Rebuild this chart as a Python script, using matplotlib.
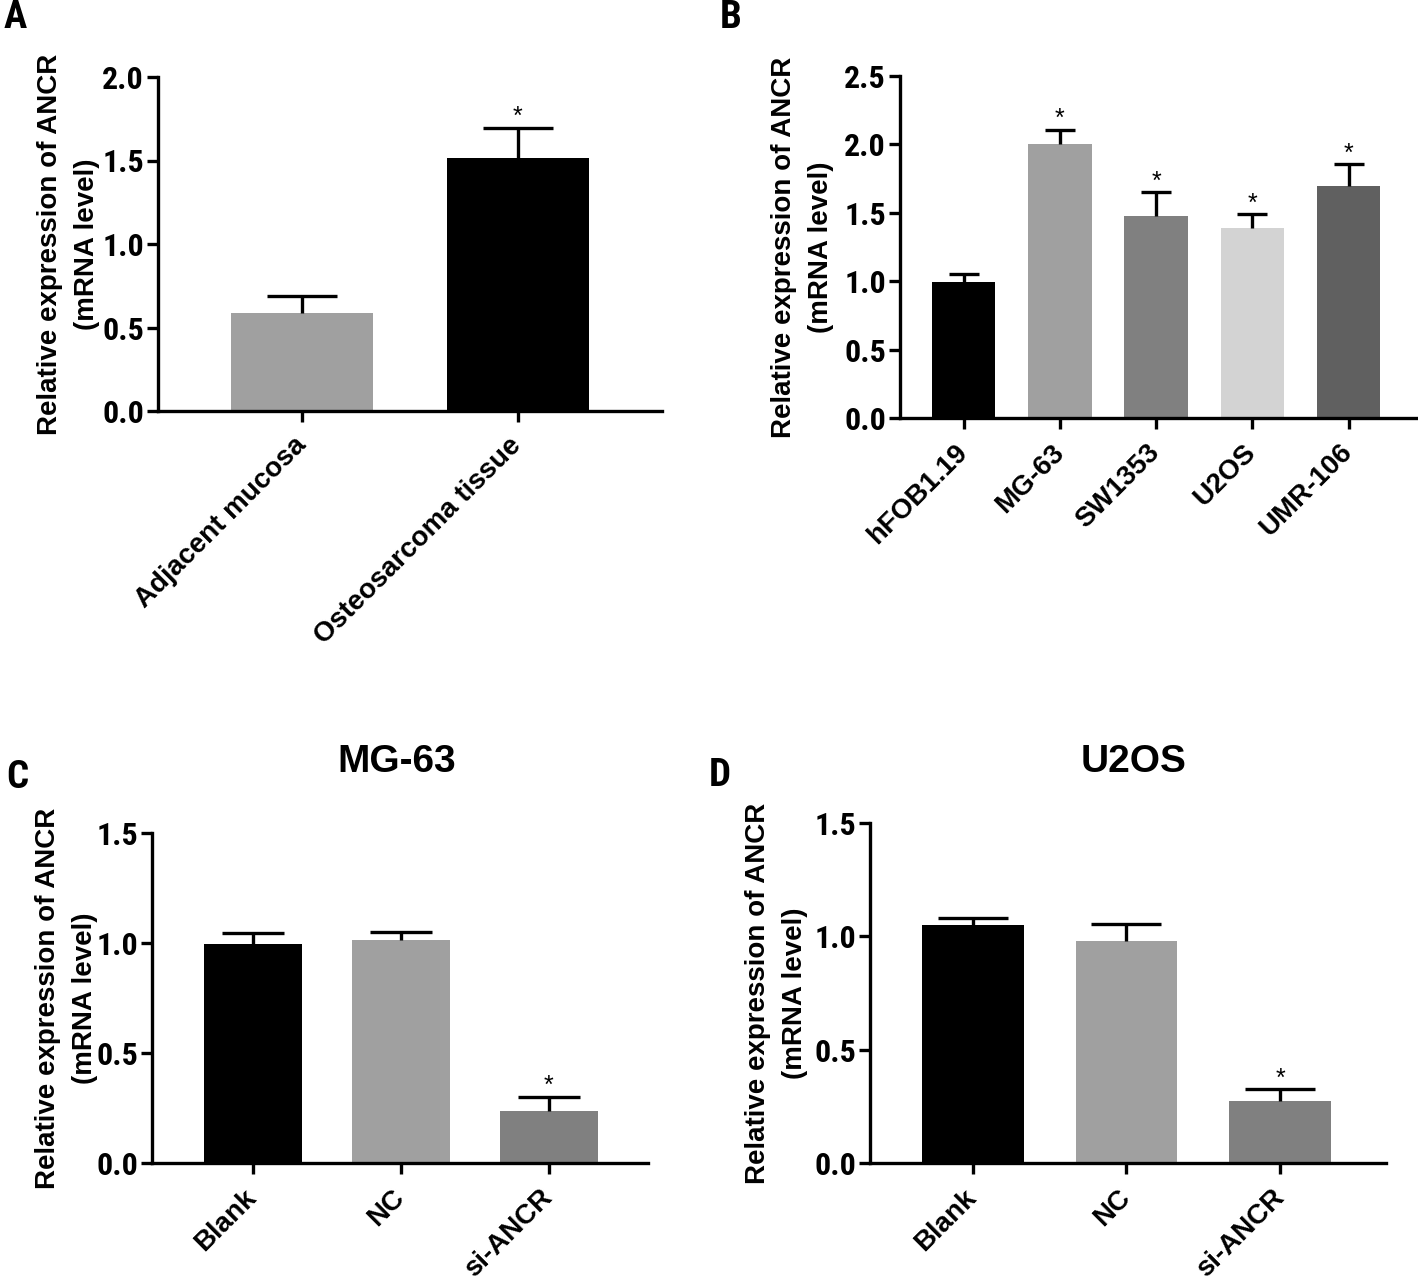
import matplotlib
matplotlib.use('Agg')
from matplotlib import pyplot as plt
from matplotlib import font_manager

# fonts: Arial-like bold for labels, a condensed bold for the numbers (as in GraphPad)
names = {f.name for f in font_manager.fontManager.ttflist}
narrow = 'Liberation Sans'
for cand in ['Liberation Sans Narrow', 'Arial Narrow', 'Roboto Condensed', 'Barlow Semi Condensed']:
    if cand in names:
        narrow = cand
        break
plt.rcParams['font.family'] = ['Liberation Sans', 'DejaVu Sans']

ylabel = 'Relative expression of ANCR\n(mRNA level)'

# panel A
a_groups = ['Adjacent mucosa', 'Osteosarcoma tissue']
a_means = [0.584, 1.517]
a_errs = [0.104, 0.178]
a_colors = ['#a0a0a0', '#000000']
a_stars = [False, True]

# panel B
b_groups = ['hFOB1.19', 'MG-63', 'SW1353', 'U2OS', 'UMR-106']
b_means = [0.996, 2.003, 1.48, 1.387, 1.699]
b_errs = [0.053, 0.103, 0.17, 0.103, 0.156]
b_colors = ['#000000', '#a0a0a0', '#808080', '#d3d3d3', '#606060']
b_stars = [False, True, True, True, True]

# panel C (MG-63)
c_groups = ['Blank', 'NC', 'si-ANCR']
c_means = [0.995, 1.015, 0.238]
c_errs = [0.052, 0.037, 0.063]
c_colors = ['#000000', '#a0a0a0', '#808080']
c_stars = [False, False, True]

# panel D (U2OS)
d_groups = ['Blank', 'NC', 'si-ANCR']
d_means = [1.052, 0.98, 0.273]
d_errs = [0.031, 0.075, 0.052]
d_colors = ['#000000', '#a0a0a0', '#808080']
d_stars = [False, False, True]

fig = plt.figure(figsize=(14.18, 12.80), dpi=100)
W, H = 1418, 1280


def rect(l, r, t, b):
    return [l / W, 1 - b / H, (r - l) / W, (b - t) / H]


def bar_panel(box, groups, means, errs, colors, stars, ymax, xlim, capsize, label_x):
    ax = fig.add_axes(box)
    x = list(range(len(groups)))
    ax.bar(x, means, width=0.66, color=colors, zorder=2)
    eb = ax.errorbar(x, means, yerr=[[0] * len(errs), errs], fmt='none', ecolor='black',
                     elinewidth=2.4, capsize=capsize, capthick=2.4, zorder=3)
    # only the upper cap, like GraphPad "mean + SD"
    eb[1][0].set_visible(False)
    for xi, m, e, s in zip(x, means, errs, stars):
        if s:
            ax.annotate('*', (xi, m + e), xytext=(0, -1), textcoords='offset points',
                        ha='center', va='bottom', fontsize=18)
    ax.set_xlim(*xlim)
    ax.set_ylim(0, ymax)
    ticks = [i * 0.5 for i in range(int(ymax / 0.5) + 1)]
    ax.set_yticks(ticks)
    ax.set_yticklabels(['%.1f' % t for t in ticks], family=narrow, fontweight='bold', fontsize=23)
    ax.set_xticks(x)
    ax.set_xticklabels(groups, rotation=45, ha='right', va='center', rotation_mode='anchor',
                       fontweight='bold', fontsize=20)
    for sp in ['top', 'right']:
        ax.spines[sp].set_visible(False)
    for sp in ['left', 'bottom']:
        ax.spines[sp].set_linewidth(2.4)
    ax.tick_params(axis='both', width=2.4, length=8, direction='out')
    ax.tick_params(axis='x', pad=14)
    ax.tick_params(axis='y', pad=2)
    ax.set_ylabel(ylabel, fontweight='bold', fontsize=20, linespacing=1.55)
    ax.yaxis.set_label_coords(label_x, 0.5)
    return ax


axA = bar_panel(rect(158, 662, 77, 411), a_groups, a_means, a_errs, a_colors, a_stars,
                2.0, (-0.67, 1.67), 25, -0.115)
axB = bar_panel(rect(900, 1416, 76, 418), b_groups, b_means, b_errs, b_colors, b_stars,
                2.5, (-0.66, 4.70), 11, -0.128)
axC = bar_panel(rect(152, 648, 833, 1163), c_groups, c_means, c_errs, c_colors, c_stars,
                1.5, (-0.68, 2.67), 22, -0.109)
axD = bar_panel(rect(870, 1386, 823, 1163), d_groups, d_means, d_errs, d_colors, d_stars,
                1.5, (-0.67, 2.69), 25, -0.12)

# panel titles sit at the same height for C and D
fig.text(397 / W, 1 - 762 / H, 'MG-63', fontweight='bold', fontsize=28, ha='center', va='center')
fig.text(1134 / W, 1 - 762 / H, 'U2OS', fontweight='bold', fontsize=28, ha='center', va='center')

for letter, px, py in [('A', 15, 18), ('B', 731, 17), ('C', 17, 777), ('D', 720, 775)]:
    fig.text(px / W, 1 - py / H, letter, family=narrow, fontweight='bold', fontsize=28,
             ha='center', va='center')

fig.savefig('out.png', dpi=100, facecolor='white')
